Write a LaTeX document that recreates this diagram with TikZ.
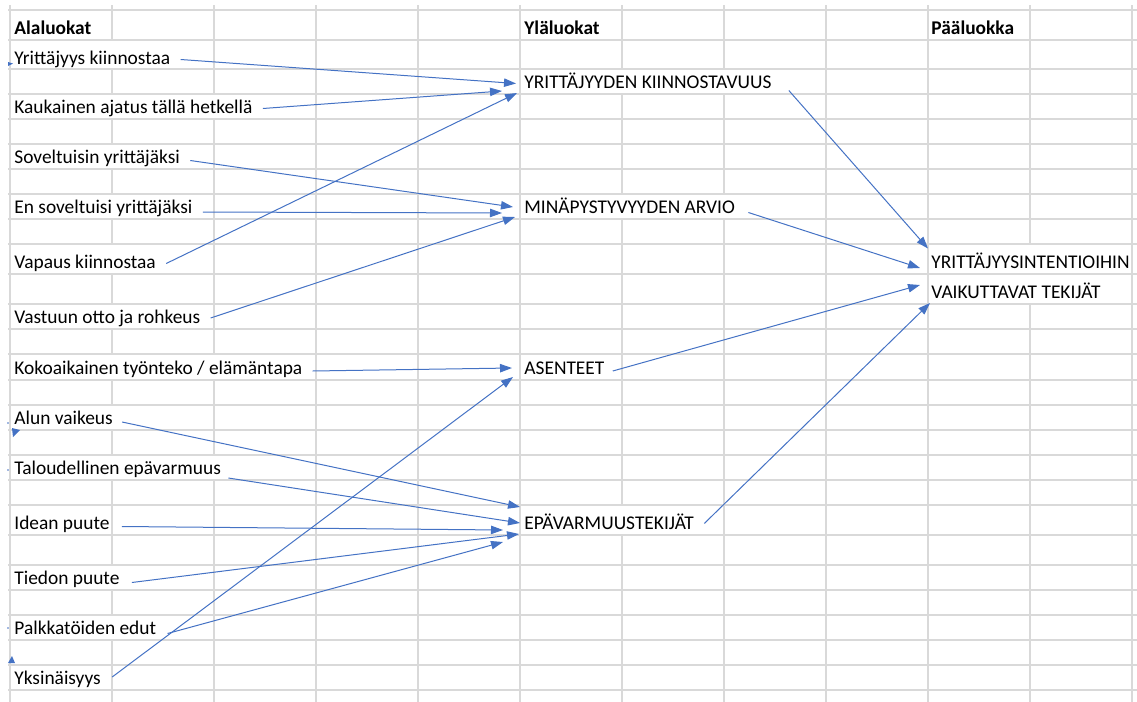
\documentclass[tikz,border=0pt]{standalone}
\usepackage{fontspec}
\setmainfont{Carlito}
\usepackage{tikz}
\usetikzlibrary{arrows.meta}

\definecolor{gridgray}{HTML}{D9D9D9}
\definecolor{linkblue}{HTML}{4472C4}

\tikzset{
  gridline/.style={draw=gridgray, line width=0.75pt},
  cell/.style={anchor=base west, inner sep=0pt, fill=white,
    text height=9.5pt, text depth=2.5pt, font=\fontsize{9.7}{11}\selectfont},
  tallcell/.style={cell, text height=11.7pt},
  head/.style={tallcell, font=\fontsize{9.7}{11}\selectfont\bfseries},
  link/.style={draw=linkblue, line width=0.5pt, -{Triangle[length=6pt,width=4.2pt]}},
}

\begin{document}
\begin{tikzpicture}[x=0.5pt, y=-0.5pt]
      \useasboundingbox (0,0) rectangle (1137,702);
      \foreach \gx in {10,112,...,1132}
        \draw[gridline] (\gx,5) -- (\gx,702);

      \node[head] (ha) at (14,34) {Alaluokat};
      \node[head] (hy) at (524,34) {Yläluokat};
      \node[head] (hp) at (931,34) {Pääluokka};

      \node[tallcell] (a1) at (14,64) {Yrittäjyys kiinnostaa};
      \node[cell] (a2) at (14,113.5) {Kaukainen ajatus tällä hetkellä};
      \node[cell] (a3) at (14,163.5) {Soveltuisin yrittäjäksi};
      \node[cell] (a4) at (14,213.5) {En soveltuisi yrittäjäksi};
      \node[tallcell] (a5) at (14,268.5) {Vapaus kiinnostaa};
      \node[cell] (a6) at (14,323.5) {Vastuun otto ja rohkeus};
      \node[cell] (a7) at (14,374) {Kokoaikainen työnteko / elämäntapa};
      \node[cell] (a8) at (14,424.5) {Alun vaikeus};
      \node[cell] (a9) at (14,474.5) {Taloudellinen epävarmuus};
      \node[tallcell] (a10) at (14,529.5) {Idean puute};
      \node[cell] (a11) at (14,584.5) {Tiedon puute};
      \node[cell] (a12) at (14,634.5) {Palkkatöiden edut};
      \node[cell] (a13) at (14,684.5) {Yksinäisyys};

      \node[cell] (y1) at (524,88.5) {YRITTÄJYYDEN KIINNOSTAVUUS};
      \node[cell] (y2) at (524,213.5) {MINÄPYSTYVYYDEN ARVIO};
      \node[cell] (y3) at (524,374) {ASENTEET};
      \node[tallcell] (y4) at (524,529.5) {EPÄVARMUUSTEKIJÄT};

      \node[tallcell] (p1) at (931,268.5) {YRITTÄJYYSINTENTIOIHIN};
      \node[tallcell] (p2) at (931,298.5) {VAIKUTTAVAT TEKIJÄT};

      \foreach \gy in {10,40,69,94,119,144,169,194,219,244,274,304,329,354,380,405,430,455,480,505,535,565,590,615,640,665,690}
        \draw[gridline] (8,\gy) -- (1137,\gy);

      \draw[link] ([shift={(10,-4.5)}]a1.base east) -- ([shift={(-8,-5)}]y1.base west);
      \draw[link] ([shift={(10,-5)}]a2.base east) -- ([shift={(-22,2.5)}]y1.base west);
      \draw[link] ([shift={(10,-3)}]a3.base east) -- ([shift={(-11,-6.5)}]y2.base west);
      \draw[link] ([shift={(10,-1.5)}]a4.base east) -- ([shift={(-22,-0.5)}]y2.base west);
      \draw[link] ([shift={(10,-5)}]a5.base east) -- ([shift={(-7,4.5)}]y1.base west);
      \draw[link] ([shift={(10,-5.5)}]a6.base east) -- ([shift={(-9,3.5)}]y2.base west);
      \draw[link] ([shift={(10,-3)}]a7.base east) -- ([shift={(-12,-6)}]y3.base west);
      \draw[link] ([shift={(9,-2.5)}]a8.base east) -- ([shift={(-4,-22.5)}]y4.base west);
      \draw[link] ([shift={(7,3.5)}]a9.base east) -- ([shift={(-4,-6.5)}]y4.base west);
      \draw[link] ([shift={(12,-3)}]a10.base east) -- ([shift={(-21,0.5)}]y4.base west);
      \draw[link] ([shift={(12,-2)}]a11.base east) -- ([shift={(-5,4.5)}]y4.base west);
      \draw[link] ([shift={(11,-1)}]a12.base east) -- ([shift={(-21,12.5)}]y4.base west);
      \draw[link] ([shift={(11,-7.5)}]a13.base east) -- ([shift={(-11,3)}]y3.base west);

      \draw[link] ([shift={(17,2)}]y1.base east) -- ([shift={(-3,-20)}]p1.base west);
      \draw[link] ([shift={(13,-1)}]y2.base east) -- ([shift={(-11,-0.5)}]p1.base west);
      \draw[link] ([shift={(8,-3)}]y3.base east) -- ([shift={(-11,-13.5)}]p2.base west);
      \draw[link] ([shift={(10,-6)}]y4.base east) -- ([shift={(-1,4.5)}]p2.base west);

      % loose tips at the left edge
      \fill[linkblue] (8,62) -- (13,63.5) -- (8,66) -- cycle;
      \fill[linkblue] (8,423) circle (0.8);
      \fill[linkblue] (12,428) -- (20,430) -- (13,437) -- cycle;
      \fill[linkblue] (8,470) circle (0.8);
      \fill[linkblue] (8,628) circle (0.8);
      \fill[linkblue] (8,663) -- (12,656) -- (15,663) -- cycle;
    \end{tikzpicture}
\end{document}
